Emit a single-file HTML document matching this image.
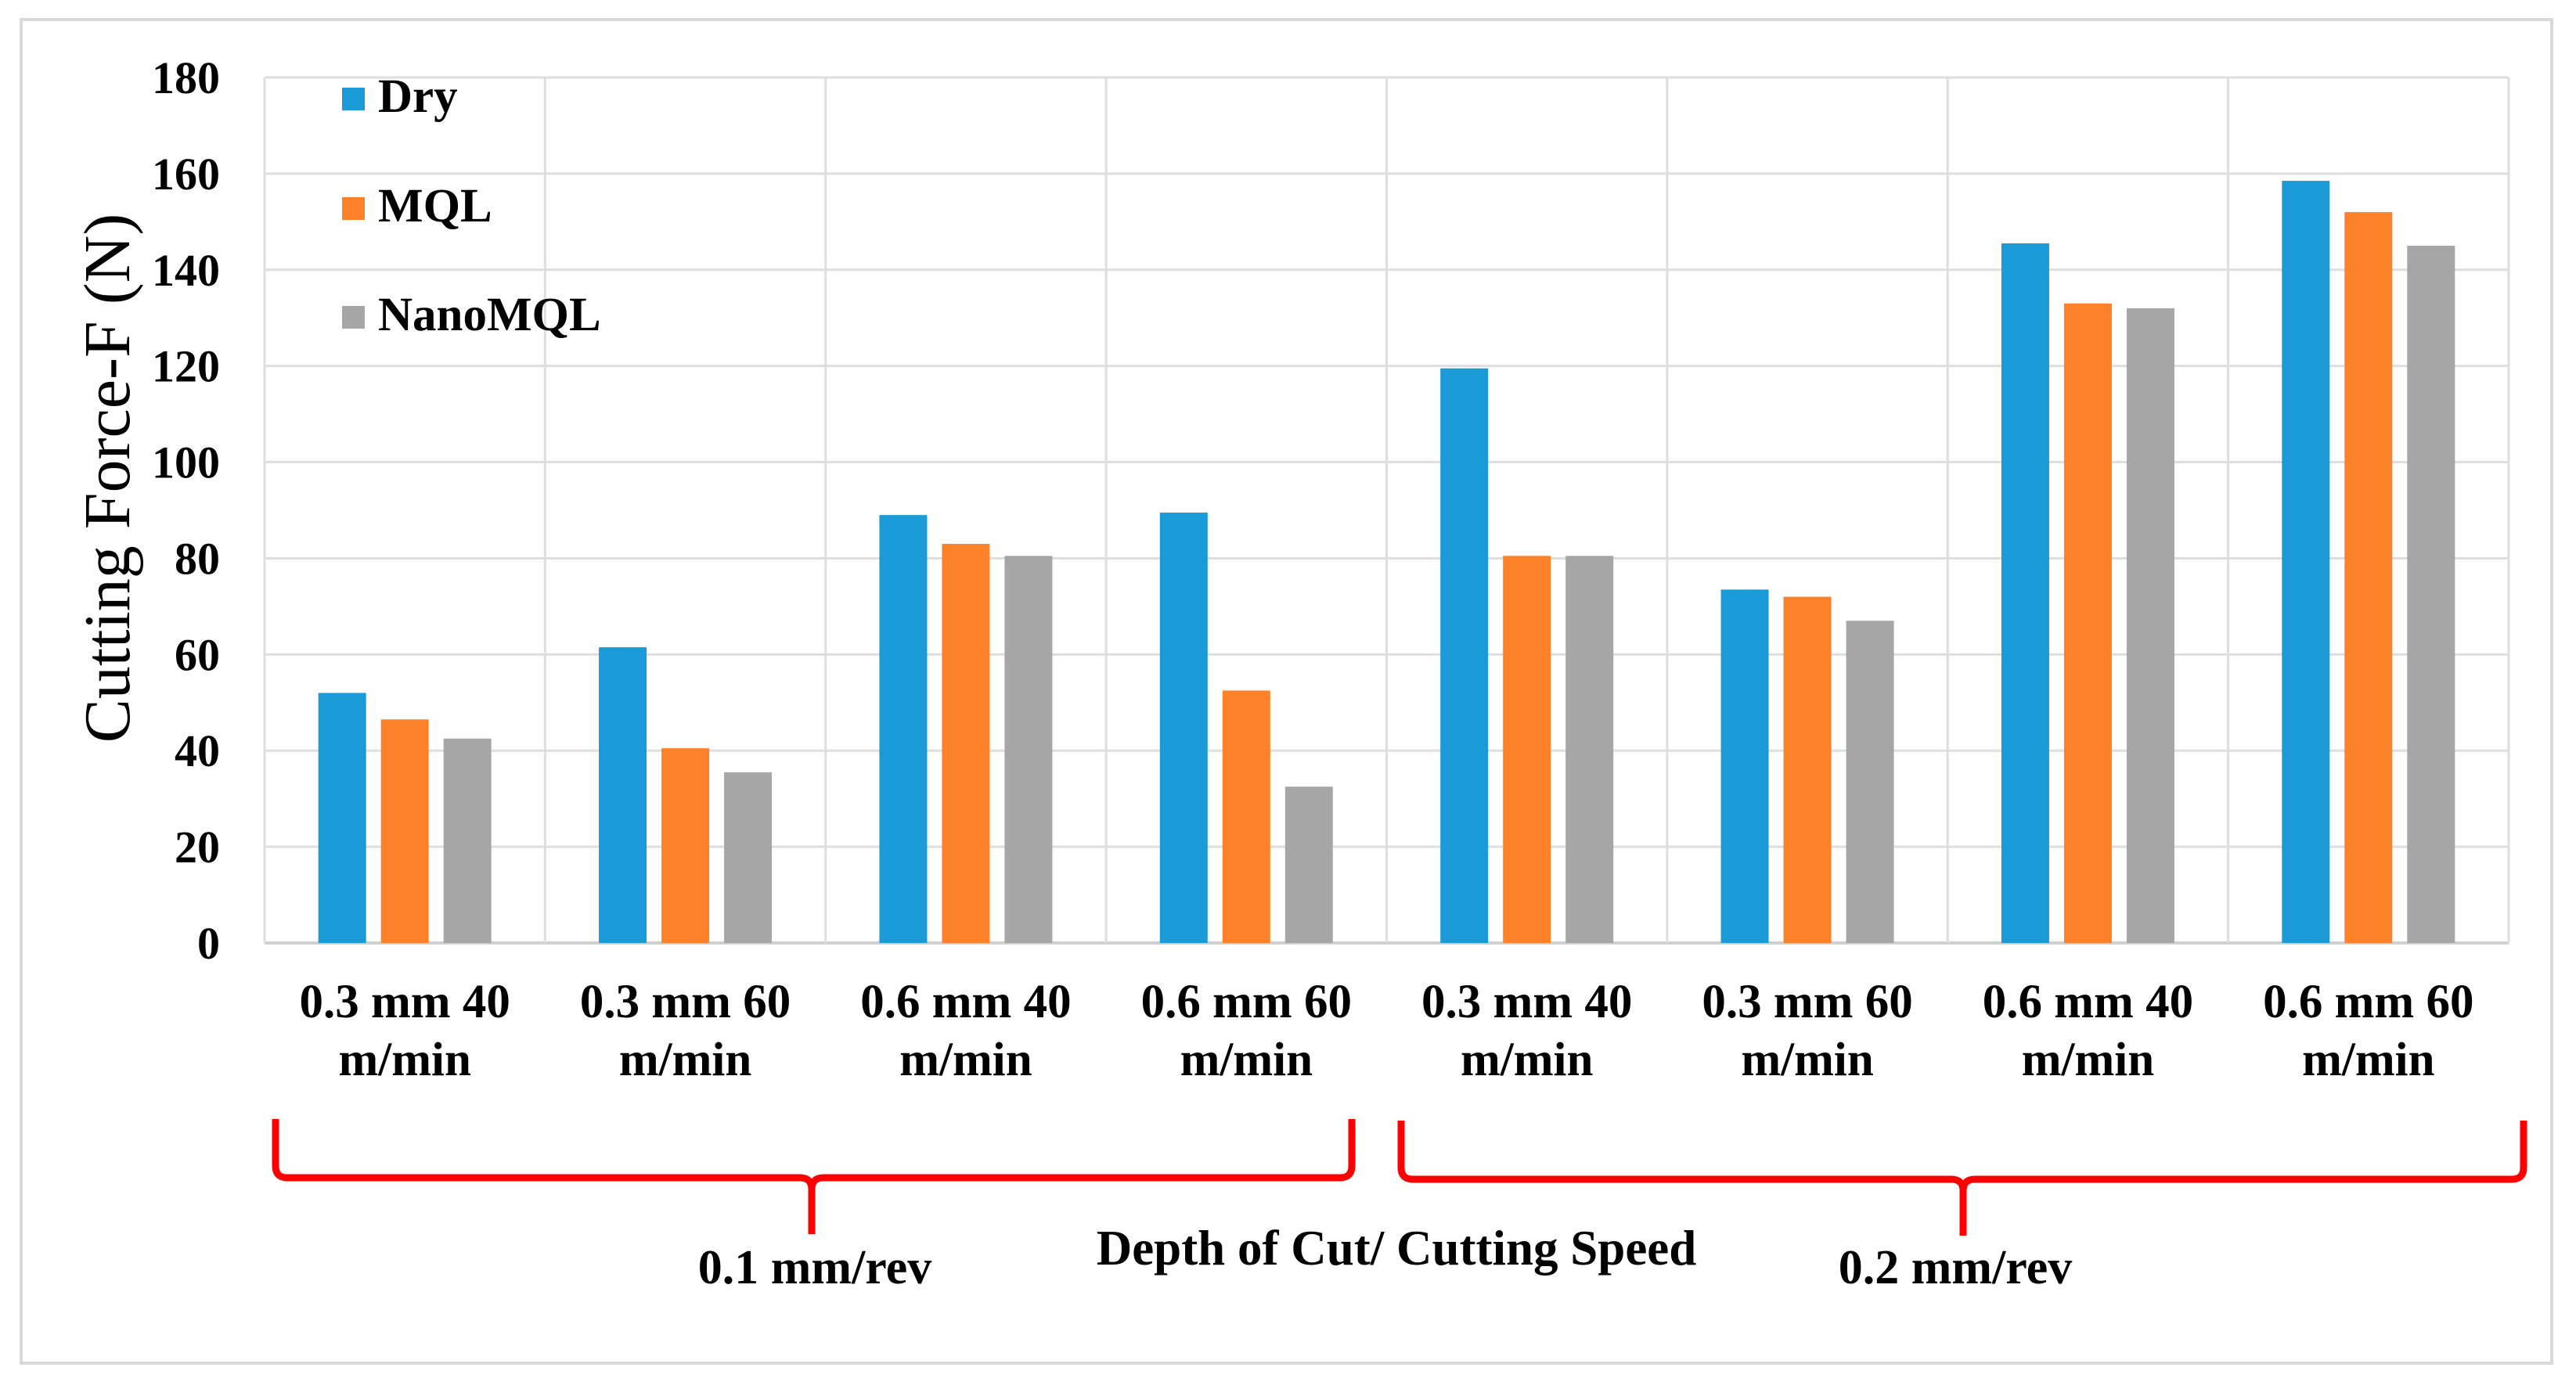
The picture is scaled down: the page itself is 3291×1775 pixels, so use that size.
<!DOCTYPE html>
<html><head><meta charset="utf-8"><style>
html,body{margin:0;padding:0;background:#fff;}
svg{display:block;}
text{font-family:"Liberation Serif",serif;}
</style></head><body>
<svg id="chart" width="3291" height="1775" viewBox="0 0 3291 1775">
<rect x="27" y="25" width="3233" height="1717" fill="#fff" stroke="#d9d9d9" stroke-width="4"/>
<g id="grid"></g>
<g id="bars"></g>
<g id="yticks"></g>
<g id="xlabels"></g>
<text x="0" y="0" transform="translate(165,611) rotate(-90)" text-anchor="middle" font-size="84" fill="#000">Cutting Force-F (N)</text>
<g>
 <g><rect x="437" y="112" width="29" height="29" fill="#1a9bd7"/><text x="483" y="143" font-size="61" font-weight="bold">Dry</text></g>
 <g><rect x="437" y="252" width="29" height="29" fill="#fd8128"/><text x="483" y="283" font-size="61" font-weight="bold">MQL</text></g>
 <g><rect x="437" y="391" width="29" height="29" fill="#a6a6a6"/><text x="483" y="422" font-size="61" font-weight="bold">NanoMQL</text></g>
</g>
<g fill="none" stroke="#ff0000" stroke-width="9">
 <path d="M352 1430 L352 1490 Q352 1505 367 1505 L1022 1505 Q1037 1505 1037 1520 L1037 1577 M1037 1520 Q1037 1505 1052 1505 L1712 1505 Q1727 1505 1727 1490 L1727 1430"/>
 <path d="M1790 1432 L1790 1492 Q1790 1507 1805 1507 L2493 1507 Q2508 1507 2508 1522 L2508 1579 M2508 1522 Q2508 1507 2523 1507 L3209 1507 Q3224 1507 3224 1492 L3224 1432"/>
</g>
<text x="1041" y="1640" text-anchor="middle" font-size="62" font-weight="bold">0.1 mm/rev</text>
<text x="1784" y="1616" text-anchor="middle" font-size="63" font-weight="bold">Depth of Cut/ Cutting Speed</text>
<text x="2498" y="1640" text-anchor="middle" font-size="62" font-weight="bold">0.2 mm/rev</text>
</svg>
<script>
const categories=["0.3 mm 40|m/min","0.3 mm 60|m/min","0.6 mm 40|m/min","0.6 mm 60|m/min","0.3 mm 40|m/min","0.3 mm 60|m/min","0.6 mm 40|m/min","0.6 mm 60|m/min"];
const dryValues=[52,61.5,89,89.5,119.5,73.5,145.5,158.5];
const mqlValues=[46.5,40.5,83,52.5,80.5,72,133,152];
const nanoValues=[42.5,35.5,80.5,32.5,80.5,67,132,145];
const yTicks=[0,20,40,60,80,100,120,140,160,180];
const NS="http://www.w3.org/2000/svg";
const L=338,R=3205,T=99,B=1205,yMax=180;
const cw=(R-L)/categories.length;
const y=v=>B-(v/yMax)*(B-T);
const x=i=>L+i*cw;
function mk(tag,attrs,parent){const e=document.createElementNS(NS,tag);for(const k in attrs)e.setAttribute(k,attrs[k]);parent.appendChild(e);return e;}
const grid=document.getElementById('grid');
yTicks.forEach(t=>{
 const ln=mk('line',{x1:L,x2:R,y1:y(t),y2:y(t),stroke:t===0?'#d0d0d0':'#dedede','stroke-width':t===0?4:3},grid);
 
 
 const tx=mk('text',{x:281,y:y(t)+20,'text-anchor':'end','font-size':58,'font-weight':'bold'},document.getElementById('yticks'));
 tx.textContent=t;
 
 
});
for(let i=0;i<=categories.length;i++){
 const ln=mk('line',{x1:x(i),x2:x(i),y1:T,y2:B,stroke:'#dedede','stroke-width':3},grid);
 
 
}
const series=[[dryValues,'#1a9bd7','dry'],[mqlValues,'#fd8128','mql'],[nanoValues,'#a6a6a6','nanomql']];
const bw=61,gap=19,off=(cw-(3*bw+2*gap))/2;
const bg=document.getElementById('bars');
categories.forEach((c,i)=>{
 series.forEach((s,j)=>{
  const v=s[0][i];
  const r=mk('rect',{x:x(i)+off+j*(bw+gap),y:y(v),width:bw,height:B-y(v),fill:s[1]},bg);
  
  
 });
 const parts=c.split('|');
 parts.forEach((p,k)=>{
  const t=mk('text',{x:x(i)+cw/2,y:1300+k*74,'text-anchor':'middle','font-size':61,'font-weight':'bold'},document.getElementById('xlabels'));
  t.textContent=p;
  
  
 });
});
</script>
</body></html>
